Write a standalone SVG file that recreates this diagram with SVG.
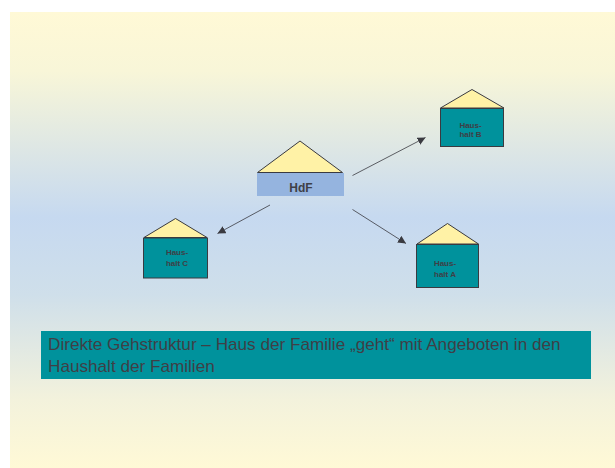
<svg xmlns="http://www.w3.org/2000/svg" width="615" height="468" viewBox="0 0 615 468">
<defs>
<linearGradient id="bg" x1="0" y1="0" x2="0" y2="1">
<stop offset="0" stop-color="#FFF9D6"/>
<stop offset="0.13" stop-color="#F8F6D8"/>
<stop offset="0.45" stop-color="#C6D9F0"/>
<stop offset="0.62" stop-color="#CFDFEA"/>
<stop offset="0.85" stop-color="#F3F2DC"/>
<stop offset="1" stop-color="#FFF9D6"/>
</linearGradient>
<marker id="arrow" markerUnits="userSpaceOnUse" markerWidth="9" markerHeight="8" refX="8" refY="4" orient="auto">
<path d="M0,0 L8,4 L0,8 Z" fill="#3A3A40"/>
</marker>
<style>
.roof{fill:#FFF2A6;stroke:#3A3A40;stroke-width:1}
.body{fill:#00929C;stroke:#3A3A40;stroke-width:1}
.small{font:bold 8px "Liberation Sans",Arial,sans-serif;fill:#3F3F46}
.conn{fill:none;stroke:#3A3A40;stroke-width:.8;marker-end:url(#arrow)}
</style>
</defs>
<rect x="10" y="12" width="605" height="456" fill="url(#bg)"/>
<g id="connectors">
<line class="conn" x1="352.500" y1="175.500" x2="425.500" y2="137.500"/>
<line class="conn" x1="352.500" y1="209.500" x2="406" y2="243.500"/>
<line class="conn" x1="270" y1="205" x2="217.500" y2="233.500"/>
</g>
<g id="hdf">
<rect x="257" y="173" width="87" height="23" fill="#95B4DF"/>
<path class="roof" d="M257.500,172.500 L300,141 L342.500,172.500 Z"/>
<text x="301" y="192" text-anchor="middle" font-family="'Liberation Sans',Arial,sans-serif" font-size="12" font-weight="bold" fill="#3F3F46">HdF</text>
</g>
<g id="haushalt-b">
<path class="roof" d="M440.500,108 L472,89.500 L504,108 Z"/>
<rect class="body" x="440.500" y="108.500" width="63" height="38"/>
<text class="small" x="470.500" y="127.500" text-anchor="middle">Haus-</text>
<text class="small" x="470.500" y="137.300" text-anchor="middle">halt B</text>
</g>
<g id="haushalt-a">
<path class="roof" d="M417,244 L447.500,223.500 L478.500,244 Z"/>
<rect class="body" x="416.500" y="244.500" width="62" height="43"/>
<text class="small" x="445" y="266" text-anchor="middle">Haus-</text>
<text class="small" x="445" y="276.500" text-anchor="middle">halt A</text>
</g>
<g id="haushalt-c">
<path class="roof" d="M144,237.500 L175.500,218.500 L207,237.500 Z"/>
<rect class="body" x="143.500" y="238" width="64" height="40"/>
<text class="small" x="177" y="255" text-anchor="middle">Haus-</text>
<text class="small" x="177" y="266" text-anchor="middle">halt C</text>
</g>
<g id="caption">
<rect x="41" y="331" width="550" height="48" fill="#00929C"/>
<text font-family="'Liberation Sans',Arial,sans-serif" font-size="17.150" fill="#3F3F46"><tspan x="48" y="350">Direkte Gehstruktur – Haus der Familie „geht“ mit Angeboten in den</tspan><tspan x="48" y="372">Haushalt der Familien</tspan></text>
</g>
</svg>
